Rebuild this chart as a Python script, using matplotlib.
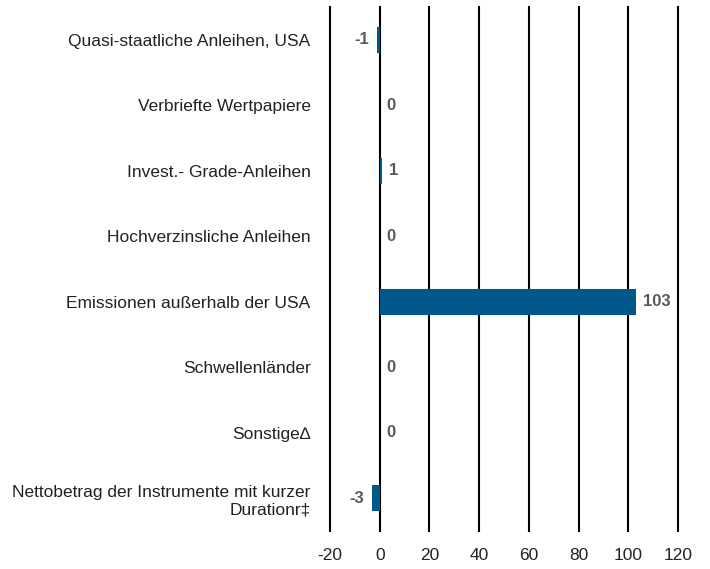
import matplotlib
matplotlib.use("Agg")
import matplotlib.pyplot as plt

categories = [
    "Quasi-staatliche Anleihen, USA",
    "Verbriefte Wertpapiere",
    "Invest.- Grade-Anleihen",
    "Hochverzinsliche Anleihen",
    "Emissionen außerhalb der USA",
    "Schwellenländer",
    "Sonstige\u2206",
    "Nettobetrag der Instrumente mit kurzer\nDurationr\u2021",
]
values = [-1, 0, 1, 0, 103, 0, 0, -3]
xticks = [-20, 0, 20, 40, 60, 80, 100, 120]

plt.rcParams['font.family'] = ['Liberation Sans', 'DejaVu Sans']

fig = plt.figure(figsize=(7.10, 5.69), dpi=100)
ax = fig.add_axes([330/710, 1 - 531/569, (678-330)/710, (531-7)/569])

y = list(range(len(categories)))
ax.barh(y, values, height=0.4, color="#00578a", zorder=3)
ax.set_ylim(len(categories) - 0.5, -0.5)
ax.set_xlim(-20, 120)
ax.set_xticks(xticks)
ax.set_xticklabels([str(t) for t in xticks], fontsize=12.5, color="#222222")
ax.set_yticks(y)
ax.set_yticklabels(categories, fontsize=12.5, color="#222222")
ax.tick_params(axis='both', length=0)
ax.tick_params(axis='y', pad=14)
ax.tick_params(axis='x', pad=12)
for s in ax.spines.values():
    s.set_visible(False)
for t in xticks:
    ax.axvline(t, color="black", lw=1.5, zorder=1, clip_on=False)

for yi, v in zip(y, values):
    if v < 0:
        ax.annotate(str(v), (v, yi), xytext=(-6, 0), textcoords="offset points",
                    ha="right", va="center", fontsize=12, fontweight="bold", color="#595959")
    else:
        ax.annotate(str(v), (v, yi), xytext=(5, 0), textcoords="offset points",
                    ha="left", va="center", fontsize=12, fontweight="bold", color="#595959")

fig.savefig("out.png", dpi=100)
